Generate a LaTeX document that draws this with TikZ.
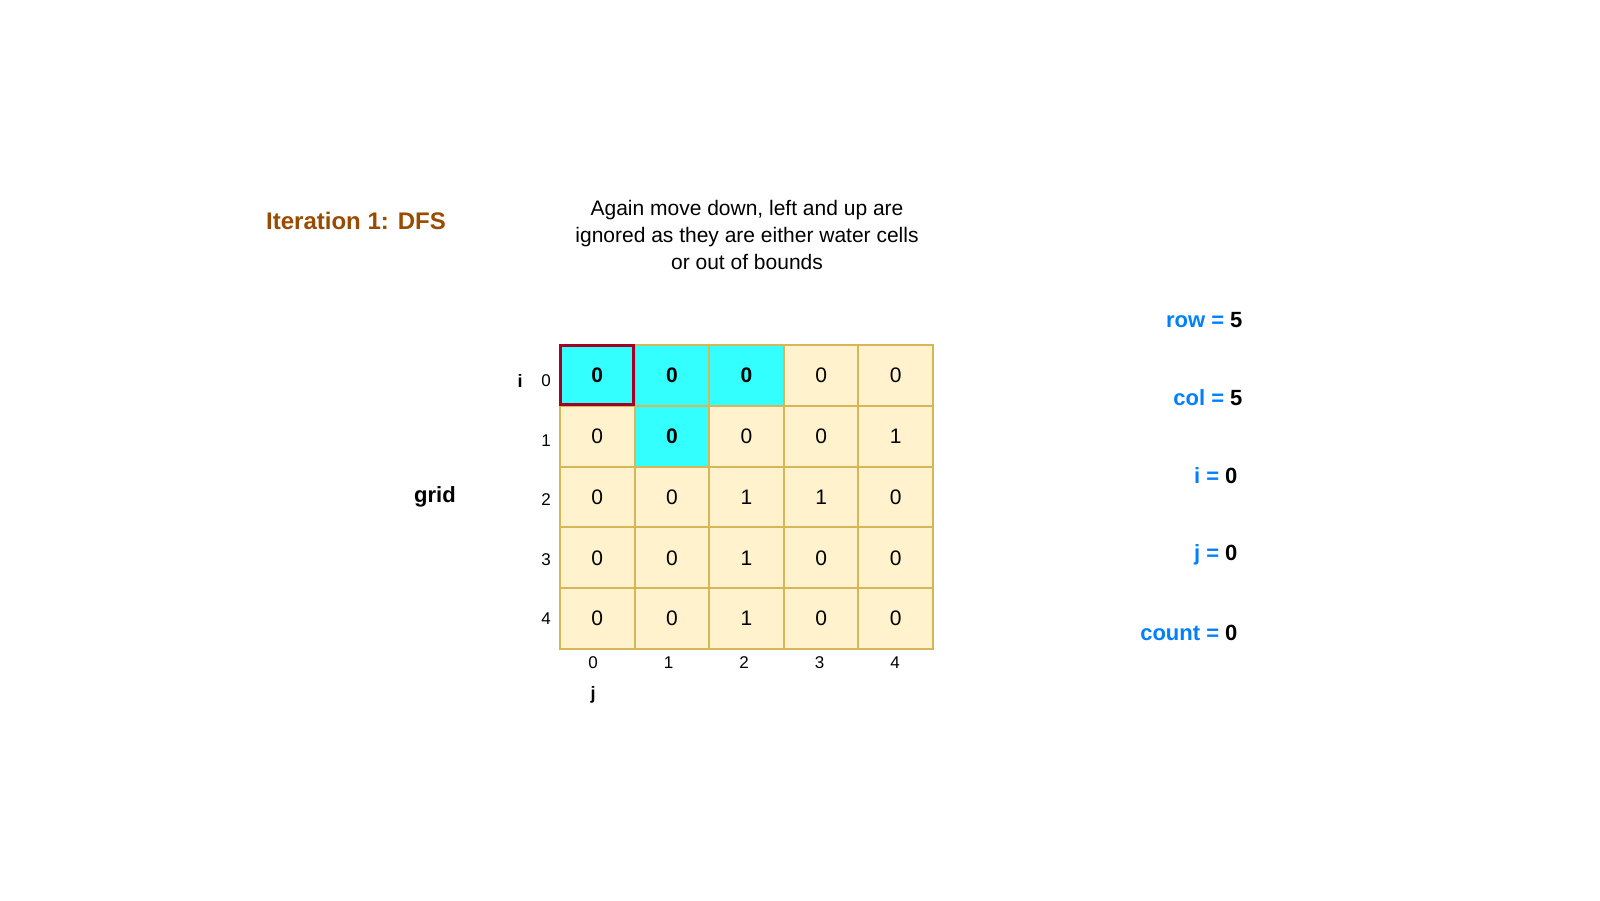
\documentclass[tikz,border=0pt]{standalone}
\usepackage{fontspec}
\setmainfont{Liberation Sans}
\definecolor{cellfill}{HTML}{FFF2CC}
\definecolor{cellline}{HTML}{D6B656}
\definecolor{cyanc}{HTML}{33FFFF}
\definecolor{titlec}{HTML}{994C00}
\definecolor{bluec}{HTML}{007FFF}
\definecolor{redc}{HTML}{A20025}
\begin{document}
\begin{tikzpicture}[x=1pt,y=-1pt,
  cell/.style={draw=cellline,line width=2pt,fill=cellfill,minimum width=74.6pt,minimum height=60.8pt,inner sep=0pt,font=\fontsize{21}{24}\selectfont},
  vis/.style={cell,fill=cyanc,font=\fontsize{21}{24}\selectfont\bfseries},
  idx/.style={font=\fontsize{17}{20}\selectfont},
  var/.style={anchor=east,font=\fontsize{22}{26}\selectfont\bfseries,text=bluec}]
\useasboundingbox (0,0) rectangle (1600,900);
\node[font=\fontsize{24}{28}\selectfont\bfseries,text=titlec] (title) at (356,221) {Iteration 1: DFS};
\node[align=center,font=\fontsize{21}{27}\selectfont] (desc) at (747,235) {Again move down, left and up are\\ignored as they are either water cells\\or out of bounds};
\node[font=\fontsize{22}{26}\selectfont\bfseries] (grid) at (435,497) {grid};
\def\vals{{{0,0,0,0,0},{0,0,0,0,1},{0,0,1,1,0},{0,0,1,0,0},{0,0,1,0,0}}}
\foreach \r in {0,...,4}{
  \foreach \c in {0,...,4}{
    \pgfmathsetmacro\v{\vals[\r][\c]}
    \pgfmathtruncatemacro\vv{\v}
    \node[cell] (c\r\c) at ({597.3+74.6*\c},{375.4+60.8*\r}) {\vv};
  }
  \node[idx] (ri\r) at (546,{381+59.5*\r}) {\r};
  \node[idx] (cj\r) at ({593+75.5*\r},663) {\r};
}
\foreach \p in {00,01,02,11}{\node[vis] (v\p) at (c\p) {0};}
\node[draw=redc,line width=3pt,minimum width=73pt,minimum height=59pt] (cur) at (c00) {};
\node[font=\fontsize{18}{20}\selectfont\bfseries] (ilab) at (520,381) {i};
\node[font=\fontsize{18}{20}\selectfont\bfseries] (jlab) at (593,695) {j};
\node[var] (row) at (1246,320) {row = \textcolor{black}{5}};
\node[var] (col) at (1246,398) {col = \textcolor{black}{5}};
\node[var] (iv) at (1241,476) {i = \textcolor{black}{0}};
\node[var] (jv) at (1241,555) {j = \textcolor{black}{0}};
\node[var] (cnt) at (1241,633) {count = \textcolor{black}{0}};
\end{tikzpicture}
\end{document}
